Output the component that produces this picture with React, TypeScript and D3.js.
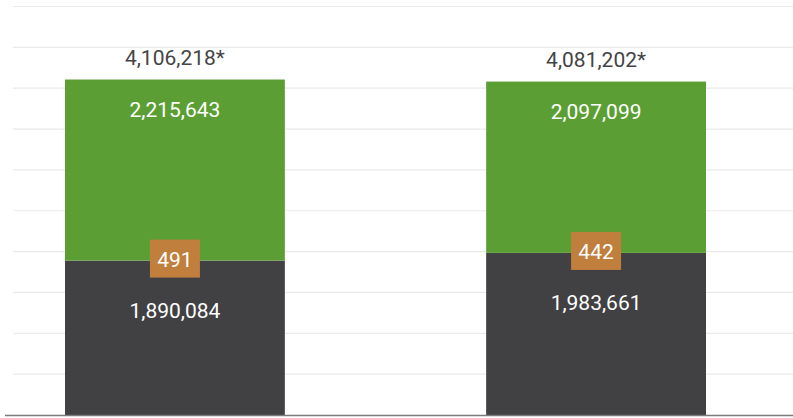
import React from "react";
import * as d3 from "d3";

const categories = ["A", "B"];
const darkValues = [1890084, 1983661];
const smallValues = [491, 442];
const greenValues = [2215643, 2097099];
const totalLabels = ["4,106,218*", "4,081,202*"];
const gridTicks = [0, 500000, 1000000, 1500000, 2000000, 2500000, 3000000, 3500000, 4000000, 4500000, 5000000];

const W = 793;
const H = 418;
const FONT = "Roboto, 'Noto Sans', sans-serif";

export default function App() {
  const x = d3.scaleBand<string>().domain(categories).range([65, 706]).paddingInner(0.478).paddingOuter(0);
  const y = d3.scaleLinear().domain([0, 5000000]).range([415, 6.5]);
  const fmt = d3.format(",");

  return (
    <svg width={W} height={H} style={{ position: "absolute", left: 0, top: 0, background: "#fff" }}>
      {gridTicks.slice(1).map((t) => (
        <line key={t} x1={13} x2={W} y1={y(t)} y2={y(t)} stroke="#eaeaea" strokeWidth={1.2} />
      ))}
      {categories.map((c, i) => {
        const x0 = x(c)!;
        const bw = x.bandwidth();
        const cx = x0 + bw / 2;
        const d = darkValues[i];
        const s = smallValues[i];
        const g = greenValues[i];
        const yDarkTop = y(d);
        const ySmallTop = y(d + s);
        const yTop = y(d + s + g);
        return (
          <g key={c}>
            <rect x={x0} width={bw} y={yDarkTop} height={y(0) - yDarkTop} fill="#414143" />
            <rect x={x0} width={bw} y={ySmallTop} height={yDarkTop - ySmallTop} fill="#c17f3e" />
            <rect x={x0} width={bw} y={yTop} height={ySmallTop - yTop} fill="#5b9f34" />
            <text x={cx} y={yTop - 15} textAnchor="middle" fontFamily={FONT} fontSize={21} fill="#444">
              {totalLabels[i]}
            </text>
            <text x={cx} y={yTop + 37} textAnchor="middle" fontFamily={FONT} fontSize={21} fill="#fff">
              {fmt(g)}
            </text>
            <rect x={cx - 25} y={yDarkTop - 21} width={50} height={38} fill="#c17f3e" />
            <text x={cx} y={yDarkTop + 6} textAnchor="middle" fontFamily={FONT} fontSize={21} fill="#fff">
              {fmt(s)}
            </text>
            <text x={cx} y={yDarkTop + 57} textAnchor="middle" fontFamily={FONT} fontSize={21} fill="#fff">
              {fmt(d)}
            </text>
          </g>
        );
      })}
      <line x1={5} x2={W} y1={y(0) + 0.5} y2={y(0) + 0.5} stroke="#7a7a7a" strokeWidth={1.5} />
    </svg>
  );
}
